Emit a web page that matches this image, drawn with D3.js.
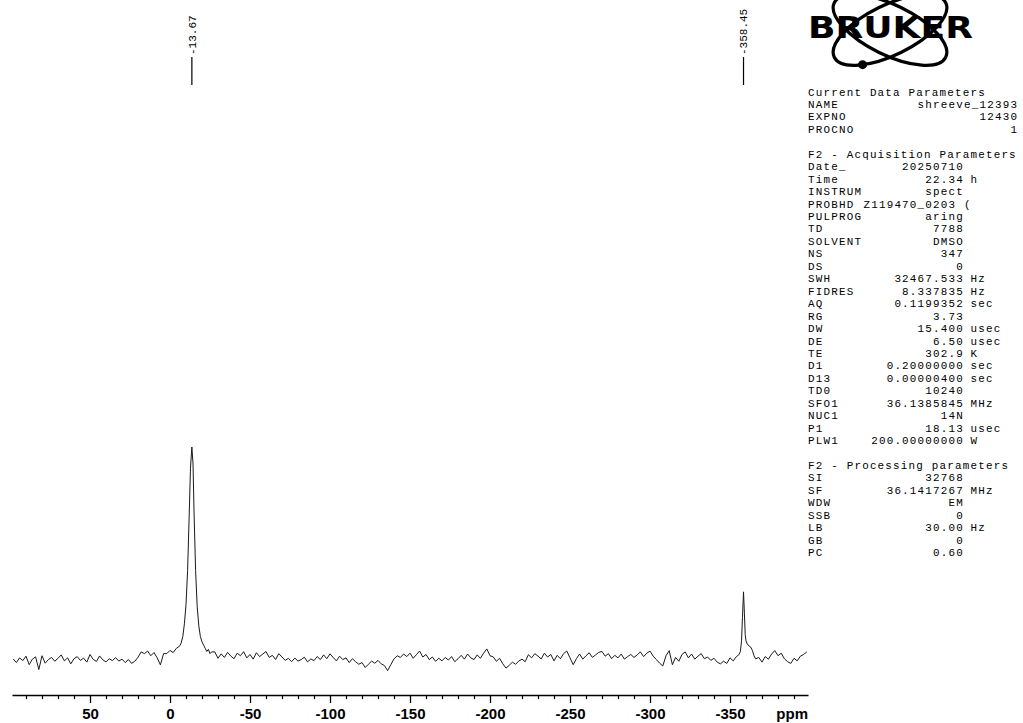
<!DOCTYPE html>
<html><head><meta charset="utf-8">
<script src="https://cdn.jsdelivr.net/npm/d3@7"></script>
<style>html,body{margin:0;padding:0;background:#fff;} svg{display:block;}</style>
</head><body>
<svg id="chart" width="1023" height="723"></svg>
<script>
// ---------- DATA ----------
const ppmStep = 2;
// baseline samples (intensity, peak1 = 100), every 2 ppm
const baselineLeftStart = 98;   // ppm 98 .. -4
const baselineLeft = [0.5,-1.2,1.0,-0.3,1.8,-2.2,0.4,1.5,-4.5,2.0,-1.5,0.2,1.2,-0.6,0.8,2.4,-0.4,1.0,-1.8,0.6,
  1.6,-0.2,0.9,-1.0,2.6,0.3,-0.7,1.9,0.1,-0.9,0.6,-0.3,1.1,-0.5,0.4,-1.2,0.2,-1.6,-0.6,1.3,
  3.8,3.0,4.2,2.0,3.5,1.0,-2.3,3.0,
  3.0,4.5,3.5,5.5];
const baselineMidStart = -28;   // ppm -28 .. -348
const baselineMid = [3.8,0.8,2.9,1.2,3.6,1.8,0.6,3.2,2.0,3.9,1.0,2.6,0.4,3.4,1.6,2.8,4.0,1.2,2.2,0.2,3.0,1.4,-0.2,0.8,-0.8,0.9,-0.5,0.2,1.3,-0.9,0.5,-0.3,1.6,0.2,2.4,0.6,2.9,
  1.2,-0.4,1.8,0.2,1.0,-1.2,0.6,-0.8,-2.0,-1.2,-3.5,-2.0,-0.5,-1.5,-0.2,-1.8,-2.6,-5.0,-2.2,0.5,2.0,1.2,2.8,1.6,3.2,0.8,2.5,4.2,1.4,2.6,0.2,1.4,-0.6,0.8,-0.4,1.2,0.0,1.6,-0.8,0.6,2.2,0.4,2.8,1.0,0.2,2.4,0.8,3.2,5.2,2.0,
  1.5,-0.6,0.8,-1.8,-3.8,-2.5,-1.0,-2.0,-0.5,0.4,-0.8,2.5,1.0,3.0,1.8,0.5,3.2,1.4,2.6,-0.4,2.2,0.6,3.0,4.2,1.0,-2.2,0.6,2.8,0.4,2.0,3.4,1.2,2.4,3.6,4.0,1.8,3.0,0.6,2.2,1.0,2.8,0.4,1.6,2.6,1.2,2.4,3.8,1.6,3.2,4.2,
  1.8,0.2,-1.5,-2.8,2.0,4.4,-2.2,1.2,-0.6,2.6,3.8,1.0,2.8,0.4,1.8,3.0,0.6,1.4,-0.2,0.8,-1.0,-1.8,-0.6,-1.6];
const baselineRightStart = -368; // ppm -368 .. -398
const baselineRight = [1.2,-1.0,1.6,0.4,2.8,4.4,2.0,3.2,0.6,-0.8,-1.6,0.8,-0.4,1.8,2.6,3.8];
// peak regions [ppm, intensity]
const peak1 = [[-6,6.5],[-7,8],[-8,11],[-9,17],[-10,26],[-11,42],[-12,68],[-12.8,90],[-13.67,100],[-14.4,92],[-15,70],
  [-16,42],[-17,25],[-18,16],[-19,11],[-20,8.5],[-21,7],[-22,5.5],[-23,4.0],[-24,5.0],[-25,3.0],[-26,3.8]];
const peak2 = [[-350,1.0],[-352,-0.4],[-354,1.6],[-355.5,2.4],[-356.5,4.0],[-357.2,9],[-357.8,20],[-358.45,32],[-359.0,22],
  [-359.5,12],[-360.0,9],[-360.8,7.5],[-362,6.5],[-363,6.0],[-364,4.5],[-365,2.0],[-366,0.5]];
const peakPositions = [-13.67, -358.45];
const peakLabels = ["-13.67", "-358.45"];
const majorTicks = [50, 0, -50, -100, -150, -200, -250, -300, -350];
const majorTickLabels = ["50", "0", "-50", "-100", "-150", "-200", "-250", "-300", "-350"];
const axisUnit = "ppm";
const logoText = "BRUKER";
const currentTitle = "Current Data Parameters";
const currentParams = [["NAME","shreeve_12393"],["EXPNO","12430"],["PROCNO","1"]];
const acqTitle = "F2 - Acquisition Parameters";
const acqParams = [["Date_","20250710",""],["Time","22.34","h"],["INSTRUM","spect",""],["PROBHD","Z119470_0203 (",""],
  ["PULPROG","aring",""],["TD","7788",""],["SOLVENT","DMSO",""],["NS","347",""],["DS","0",""],
  ["SWH","32467.533","Hz"],["FIDRES","8.337835","Hz"],["AQ","0.1199352","sec"],["RG","3.73",""],
  ["DW","15.400","usec"],["DE","6.50","usec"],["TE","302.9","K"],["D1","0.20000000","sec"],
  ["D13","0.00000400","sec"],["TD0","10240",""],["SFO1","36.1385845","MHz"],["NUC1","14N",""],
  ["P1","18.13","usec"],["PLW1","200.00000000","W"]];
const procTitle = "F2 - Processing parameters";
const procParams = [["SI","32768",""],["SF","36.1417267","MHz"],["WDW","EM",""],["SSB","0",""],
  ["LB","30.00","Hz"],["GB","0",""],["PC","0.60",""]];

// ---------- DRAW ----------
const svg = d3.select("#chart");
svg.append("rect").attr("width",1023).attr("height",723).attr("fill","#fff");

const x = d3.scaleLinear().domain([100, -400]).range([10, 810]);
const y = d3.scaleLinear().domain([0, 100]).range([660, 447]);

const seg = (start, vals) => vals.map((v, i) => ({ppm: start - i * ppmStep, v}));
const pts = [
  ...seg(baselineLeftStart, baselineLeft),
  ...peak1.map(d => ({ppm: d[0], v: d[1]})),
  ...seg(baselineMidStart, baselineMid),
  ...peak2.map(d => ({ppm: d[0], v: d[1]})),
  ...seg(baselineRightStart, baselineRight)
].sort((a, b) => b.ppm - a.ppm);

svg.append("path").datum(pts)
  .attr("d", d3.line().x(d => x(d.ppm)).y(d => y(d.v)))
  .attr("fill", "none").attr("stroke", "#1a1a1a").attr("stroke-width", 1).attr("stroke-linejoin","round");

// axis
const xa = x.copy().domain([98.75, -398.75]).range([x(98.75), x(-398.75)]);
const minorTicks = d3.range(90, -400, -10).filter(t => t % 50 !== 0);
const gMinor = svg.append("g").attr("transform", "translate(0,695)")
  .call(d3.axisBottom(xa).tickValues(minorTicks).tickSize(4).tickFormat("").tickSizeOuter(0));
gMinor.select(".domain").remove();
gMinor.selectAll("line").attr("stroke", "#000").attr("stroke-width", 1.2);
const gMajor = svg.append("g").attr("transform", "translate(0,695)")
  .call(d3.axisBottom(xa).tickValues(majorTicks).tickFormat((d, i) => majorTickLabels[i])
    .tickSize(8).tickPadding(5).tickSizeOuter(0));
gMajor.select(".domain").attr("stroke", "#000").attr("stroke-width", 1.5);
gMajor.selectAll("line").attr("stroke", "#000").attr("stroke-width", 1.3);
gMajor.selectAll("text").attr("font-family", "Liberation Sans, Arial, sans-serif")
  .attr("font-weight", "bold").attr("font-size", 15).attr("fill", "#000");
svg.append("text").attr("x", 808).attr("y", 719).attr("text-anchor", "end")
  .attr("font-family", "Liberation Sans, Arial, sans-serif").attr("font-weight", "bold")
  .attr("font-size", 15).text(axisUnit);

// peak labels
peakPositions.forEach((p, i) => {
  const px = x(p);
  svg.append("line").attr("x1", px).attr("x2", px).attr("y1", 57).attr("y2", 85)
    .attr("stroke", "#000").attr("stroke-width", 1.2);
  svg.append("text").attr("transform", `translate(${px + 3.8},55) rotate(-90)`)
    .attr("font-family", "Liberation Mono, monospace").attr("font-size", 11)
    .attr("fill", "#000").text(peakLabels[i]);
});

// logo
const lg = svg.append("g");
const cx = 890, cy = 30, rx = 62, ry = 25, ang = 26;
[ang, -ang].forEach(a => {
  lg.append("ellipse").attr("cx", cx).attr("cy", cy).attr("rx", rx).attr("ry", ry)
    .attr("transform", `rotate(${a},${cx},${cy})`)
    .attr("fill", "none").attr("stroke", "#000").attr("stroke-width", 3.2);
});
{
  const t = 130 * Math.PI / 180, th = -ang * Math.PI / 180;
  const X = rx * Math.cos(t), Y = ry * Math.sin(t);
  lg.append("circle").attr("cx", cx + X * Math.cos(th) - Y * Math.sin(th))
    .attr("cy", cy + X * Math.sin(th) + Y * Math.cos(th)).attr("r", 4.5).attr("fill", "#000");
}
lg.append("text").attr("x", 808).attr("y", 38).attr("font-family", "DejaVu Sans, sans-serif")
  .attr("font-weight", "bold").attr("font-size", 30).attr("textLength", 165)
  .attr("lengthAdjust", "spacingAndGlyphs").attr("fill", "#000").text(logoText);

// parameter text (monospace columns)
const fs = 10.9, charW = 7.74, ls = charW - fs * 0.6;
const lx = 808, y0 = 95.5, lh = 12.45;
const tg = svg.append("g").attr("font-family", "Liberation Mono, monospace")
  .attr("font-size", fs).attr("letter-spacing", ls).attr("fill", "#000");
const row = (idx) => y0 + idx * lh;
const endX = (col) => lx + col * charW + ls;  // compensate trailing letter-spacing
tg.append("text").attr("x", lx).attr("y", row(0)).text(currentTitle);
currentParams.forEach((d, i) => {
  tg.append("text").attr("x", lx).attr("y", row(1 + i)).text(d[0]);
  tg.append("text").attr("x", endX(27)).attr("y", row(1 + i)).attr("text-anchor", "end").text(d[1]);
});
const block = (title, params, start) => {
  tg.append("text").attr("x", lx).attr("y", row(start)).text(title);
  params.forEach((d, i) => {
    const yy = row(start + 1 + i);
    const endCol = d[1].length > 13 ? 21 : 20;
    tg.append("text").attr("x", lx).attr("y", yy).text(d[0]);
    tg.append("text").attr("x", endX(endCol)).attr("y", yy).attr("text-anchor", "end").text(d[1]);
    if (d[2]) tg.append("text").attr("x", lx + 21 * charW).attr("y", yy).text(d[2]);
  });
};
block(acqTitle, acqParams, 5);
block(procTitle, procParams, 5 + acqParams.length + 2);
</script>
</body></html>
